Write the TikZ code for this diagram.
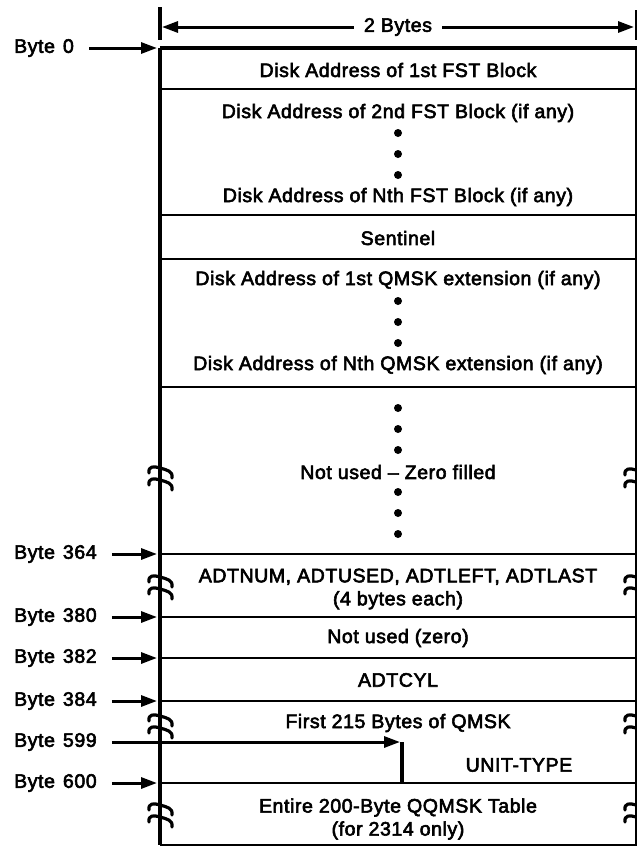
\documentclass[tikz,border=0pt]{standalone}
\usepackage{fontspec}
\setmainfont{Liberation Sans}[LetterSpace=3, FakeBold=3]
\usetikzlibrary{arrows.meta}
\begin{document}
\begin{tikzpicture}[x=1pt,y=-1pt,
  txt/.style={font=\fontsize{19.5}{23}\selectfont, inner sep=0pt, align=center},
  lbl/.style={font=\fontsize{19.5}{23}\selectfont, inner sep=0pt, anchor=west},
  rule/.style={line width=2.4pt},
  border/.style={line width=3.4pt},
  ptr/.style={line width=3pt, shorten <=15pt, -{Triangle[length=16pt,width=11pt]}},
  brk/.style={line width=3.2pt, line cap=round},
  dot/.style={circle, fill, inner sep=0pt, minimum size=8pt}]
\useasboundingbox (0,0) rectangle (637,847);

% frame
\draw[border] (160,7) -- (160,40);
\draw[rule] (636,10) -- (636,40);
\draw[border] (160,48) -- (160,845);
\draw[rule] (636,48) -- (636,845);
\draw[border] (160,48) -- (637,48);
\foreach \yy in {89,215,259,387,554,617,658,701,783,845}
  \draw[rule] (160,\yy) -- (637,\yy);
\draw[border] (402,742) -- (402,783);

% width arrow
\node[txt] (w) at (398,27) {2 Bytes};
\coordinate (wl) at (162,27);
\coordinate (wr) at (634,27);
\draw[ptr, shorten <=10pt] (w) -- (wl);
\draw[ptr, shorten <=10pt] (w) -- (wr);

% texts
\node[txt] (t1) at (398,70) {Disk Address of 1st FST Block};
\node[txt] (t2) at (398,113) {Disk Address of 2nd FST Block (if any)};
\node[dot] (d1) at (398,133) {};
\node[dot] (d2) at (398,154) {};
\node[dot] (d3) at (398,175) {};
\node[txt] (t3) at (398,197) {Disk Address of Nth FST Block (if any)};
\node[txt] (t4) at (398,238) {Sentinel};
\node[txt] (t5) at (398,280) {Disk Address of 1st QMSK extension (if any)};
\node[dot] (d4) at (398,301) {};
\node[dot] (d5) at (398,322) {};
\node[dot] (d6) at (398,343) {};
\node[txt] (t6) at (398,365) {Disk Address of Nth QMSK extension (if any)};
\node[dot] (d7) at (398,408) {};
\node[dot] (d8) at (398,429) {};
\node[dot] (d9) at (398,450) {};
\node[txt] (t7) at (398,472) {Not used -- Zero filled};
\node[dot] (d10) at (398,492) {};
\node[dot] (d11) at (398,513) {};
\node[dot] (d12) at (398,534) {};
\node[txt] (t8) at (398,589) {ADTNUM, ADTUSED, ADTLEFT, ADTLAST\\(4 bytes each)};
\node[txt] (t9) at (398,638) {Not used (zero)};
\node[txt] (t10) at (398,680) {ADTCYL};
\node[txt] (t11) at (398,723) {First 215 Bytes of QMSK};
\node[txt] (t12) at (519,765) {UNIT-TYPE};
\node[txt] (t13) at (398,819) {Entire 200-Byte QQMSK Table\\(for 2314 only)};

% byte labels and pointers
\foreach \nm/\num/\yy/\tx in {b0/0/48/157, b364/364/554/157, b380/380/617/157, b382/382/658/157, b384/384/701/157, b599/599/742/400, b600/600/783/157}{
  \node[lbl] (\nm) at (14,\yy) {Byte\hspace{8pt}\num};
  \coordinate (\nm e) at (\tx,\yy);
  \draw[ptr] (\nm.east) -- (\nm e);
}

% break marks
\foreach \xx/\yy in {160/476, 160/585, 160/724, 160/813, 636/478, 636/585, 636/724, 636/813}{
  \begin{scope}[shift={(\xx,\yy)}]
    \draw[brk] (-11,-3) .. controls (-12,-10) and (-6,-10) .. (0,-8) .. controls (7,-6) and (13,-5) .. (12,2);
    \draw[brk] (-11,9) .. controls (-12,2) and (-6,2) .. (0,4) .. controls (7,6) and (13,7) .. (12,14);
  \end{scope}
}
\end{tikzpicture}
\end{document}
